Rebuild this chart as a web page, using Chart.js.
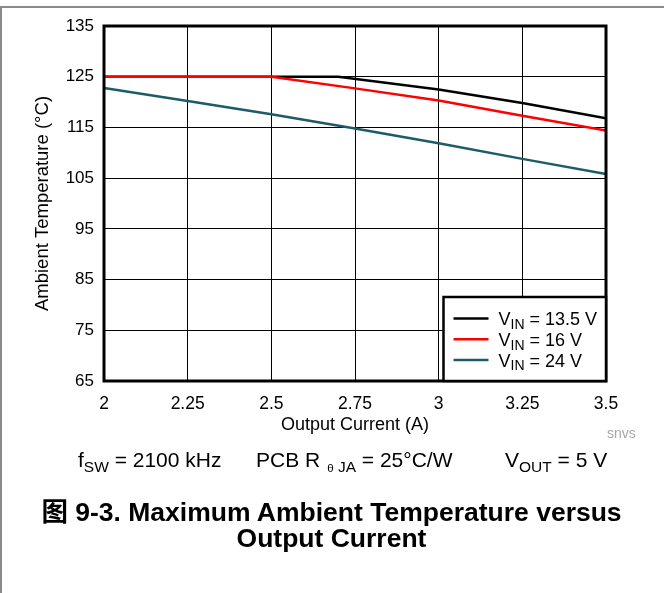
<!DOCTYPE html>
<html>
<head>
<meta charset="utf-8">
<script src="https://cdn.jsdelivr.net/npm/chart.js@4.4.1/dist/chart.umd.min.js"></script>
<style>
  html, body { margin: 0; padding: 0; background: #fff; }
  body { width: 664px; height: 593px; position: relative; overflow: hidden;
         font-family: "Liberation Sans", Arial, "Noto Sans CJK SC", sans-serif; color: #000; }
  #frame { position: absolute; left: 0; top: 6px; width: 664px; height: 587px;
           border-top: 2px solid #8a8a8a; border-left: 2px solid #8a8a8a; box-sizing: border-box; }
  #chart { position: absolute; left: 0; top: 0; }
  .note { position: absolute; top: 448px; font-size: 21px; line-height: 24px; white-space: nowrap; }
  .sub { font-size: 15.5px; position: relative; top: 5px; }
  .cap { position: absolute; left: 0; width: 663px; text-align: center; font-weight: bold;
         font-size: 26.5px; line-height: 26px; white-space: nowrap;
         font-family: "Liberation Sans", Arial, "Noto Sans CJK SC", sans-serif; }
  #src { position: absolute; left: 607px; top: 425px; font-size: 14px; line-height: 16px; color: #a6a6a6; }
</style>
</head>
<body>
<div id="frame"></div>
<canvas id="chart" width="664" height="593"></canvas>
<div class="note" style="left:78px">f<span class="sub">SW</span> = 2100 kHz</div>
<div class="note" style="left:256px">PCB R<span class="sub" style="margin-left:7px"><span style="font-size:11.5px">θ</span> JA</span> = 25°C/W</div>
<div class="note" style="left:505px">V<span class="sub">OUT</span> = 5 V</div>
<div id="src">snvs</div>
<div class="cap" style="top:499px">图 9-3. Maximum Ambient Temperature versus</div>
<div class="cap" style="top:525px">Output Current</div>
<script>
// axis ticks
const xTicks = [2, 2.25, 2.5, 2.75, 3, 3.25, 3.5];
const yTicks = [65, 75, 85, 95, 105, 115, 125, 135];

// series: V_IN values, current (A) and max ambient temperature (°C)
const vin = ['13.5', '16', '24'];
const current135 = [2, 2.7, 3, 3.25, 3.5];
const temp135 = [125, 125, 122.5, 119.8, 116.8];
const current16 = [2, 2.5, 2.75, 3, 3.25, 3.5];
const temp16 = [125, 125, 122.7, 120.3, 117.3, 114.4];
const current24 = [2, 2.25, 2.5, 2.75, 3, 3.25, 3.5];
const temp24 = [122.8, 120.2, 117.6, 114.8, 111.9, 108.8, 105.8];

const colors = ['#000000', '#ff0000', '#1d5b68'];
const FONT = '"Liberation Sans", Arial, sans-serif';

const toPoints = (xs, ys) => xs.map((x, i) => ({x: x, y: ys[i]}));

// thick frame round the plot + legend box inside the chart area
const framePlugin = {
    id: 'framePlugin',
    afterDatasetsDraw(chart) {
        const {ctx, chartArea: a} = chart;
        ctx.save();
        ctx.strokeStyle = '#000';
        ctx.lineWidth = 3;
        ctx.strokeRect(a.left, a.top, a.right - a.left, a.bottom - a.top);

        // legend
        const w = 162.5, h = 84;
        const left = a.right - w, top = a.bottom - h;
        ctx.fillStyle = '#fff';
        ctx.fillRect(left, top, w, h);
        ctx.lineWidth = 2.5;
        ctx.strokeRect(left, top, w, h);
        ctx.textAlign = 'left';
        ctx.textBaseline = 'alphabetic';
        chart.data.datasets.forEach((ds, i) => {
            const y = top + 21.5 + i * 20.8;
            ctx.strokeStyle = ds.borderColor;
            ctx.lineWidth = 2.5;
            ctx.beginPath();
            ctx.moveTo(left + 10, y);
            ctx.lineTo(left + 45, y);
            ctx.stroke();
            const base = y + 6.7;
            let x = left + 55;
            ctx.fillStyle = '#000';
            ctx.font = '18px ' + FONT;
            ctx.fillText('V', x, base);
            x += ctx.measureText('V').width;
            ctx.font = '14px ' + FONT;
            ctx.fillText('IN', x, base + 3.5);
            x += ctx.measureText('IN').width;
            ctx.font = '18px ' + FONT;
            ctx.fillText(' = ' + vin[i] + ' V', x, base);
        });
        ctx.restore();
    }
};

const ctx = document.getElementById('chart').getContext('2d');
new Chart(ctx, {
    type: 'line',
    data: {
        datasets: [
            {label: 'VIN = ' + vin[0] + ' V', data: toPoints(current135, temp135), borderColor: colors[0], order: 2},
            {label: 'VIN = ' + vin[1] + ' V', data: toPoints(current16, temp16), borderColor: colors[1], order: 1},
            {label: 'VIN = ' + vin[2] + ' V', data: toPoints(current24, temp24), borderColor: colors[2], order: 3}
        ].map(ds => Object.assign(ds, {borderWidth: 2.5, pointRadius: 0, tension: 0, fill: false}))
    },
    options: {
        responsive: false,
        animation: false,
        devicePixelRatio: 1,
        layout: {padding: {left: 0, top: 26, right: 58, bottom: 157}},
        plugins: {legend: {display: false}, tooltip: {enabled: false}},
        scales: {
            x: {
                type: 'linear',
                min: 2, max: 3.5,
                afterBuildTicks: s => { s.ticks = xTicks.map(v => ({value: v})); },
                afterFit: s => { s.height = 55; },
                ticks: {
                    color: '#000', font: {family: FONT, size: 17.5}, padding: 13,
                    maxRotation: 0, autoSkip: false, callback: v => String(v)
                },
                grid: {color: '#000', lineWidth: 1, drawTicks: false},
                border: {display: false},
                title: {display: true, text: 'Output Current (A)', color: '#000',
                        font: {family: FONT, size: 18}, padding: {top: 0, bottom: 0}}
            },
            y: {
                min: 65, max: 135,
                afterBuildTicks: s => { s.ticks = yTicks.map(v => ({value: v})); },
                afterFit: s => { s.width = 104; },
                ticks: {color: '#000', font: {family: FONT, size: 17}, padding: 10},
                grid: {color: '#000', lineWidth: 1, drawTicks: false},
                border: {display: false},
                title: {display: true, text: 'Ambient Temperature (°C)', color: '#000',
                        font: {family: FONT, size: 18.5}, padding: {top: 32, bottom: 0}}
            }
        }
    },
    plugins: [framePlugin]
});
</script>
</body>
</html>
